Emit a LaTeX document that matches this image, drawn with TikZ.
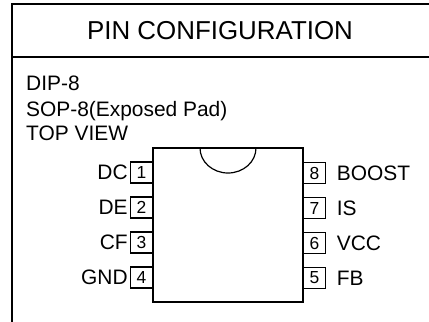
\documentclass[tikz,border=0pt]{standalone}
\usepackage{fontspec}
\setmainfont{Liberation Sans}
\usetikzlibrary{positioning}

\begin{document}
\begin{tikzpicture}
      [%%%%%%%%%%%%%%%%%%%%%%%%%%%%%%
          x=1bp, y=-1bp,
          frame/.style={line width=1.4bp},
          chip/.style={rectangle,draw=black,line width=1.2bp,minimum width=150bp,minimum height=154bp,inner sep=0},
          pinbox/.style={rectangle,draw=black,line width=1.1bp,minimum width=22bp,minimum height=21bp,inner sep=0,font=\fontsize{17.5}{17.5}\selectfont},
          pinname/.style={inner sep=0,font=\fontsize{21}{21}\selectfont},
          note/.style={anchor=base west,inner sep=0,font=\fontsize{21}{21}\selectfont}
      ]%%%%%%%%%%%%%%%%%%%%%%%%%%%%%%

  \useasboundingbox (0,0) rectangle (429,322);
  \clip (0,0) rectangle (429,322);

  % frame and heading
  \draw[frame] (12,330) -- (12,4) -- (440,4);
  \draw[frame] (12,57) -- (440,57);
  \node[anchor=base,inner sep=0,font=\fontsize{26}{26}\selectfont] (title) at (220,39.3) {PIN CONFIGURATION};

  \node[note] (dip) at (26,90) {DIP-8};
  \node[note] (sop) at (26,116.5) {SOP-8(Exposed Pad)};
  \node[note] (top) at (26,140.7) {TOP VIEW};

  % package body with notch
  \node[chip] (ic) at (228,225) {};
  \draw[line width=1.2bp] (200,148) arc[start angle=180,end angle=0,x radius=28,y radius=25];

  \foreach \n/\name [count=\i] in {1/DC,2/DE,3/CF,4/GND}{
      \pgfmathsetmacro\py{172.5+35*(\i-1)}
      \node[pinbox,anchor=east] (p\n) at (153,\py) {\n};
      \node[pinname,left=2bp of p\n] (l\n) {\name};
  }

  \foreach \n/\name [count=\i] in {8/BOOST,7/IS,6/VCC,5/FB}{
      \pgfmathsetmacro\py{173+35*(\i-1)}
      \node[pinbox,anchor=west] (p\n) at (303,\py) {\n};
      \node[pinname,right=10.5bp of p\n] (l\n) {\name};
  }

  \end{tikzpicture}
\end{document}
